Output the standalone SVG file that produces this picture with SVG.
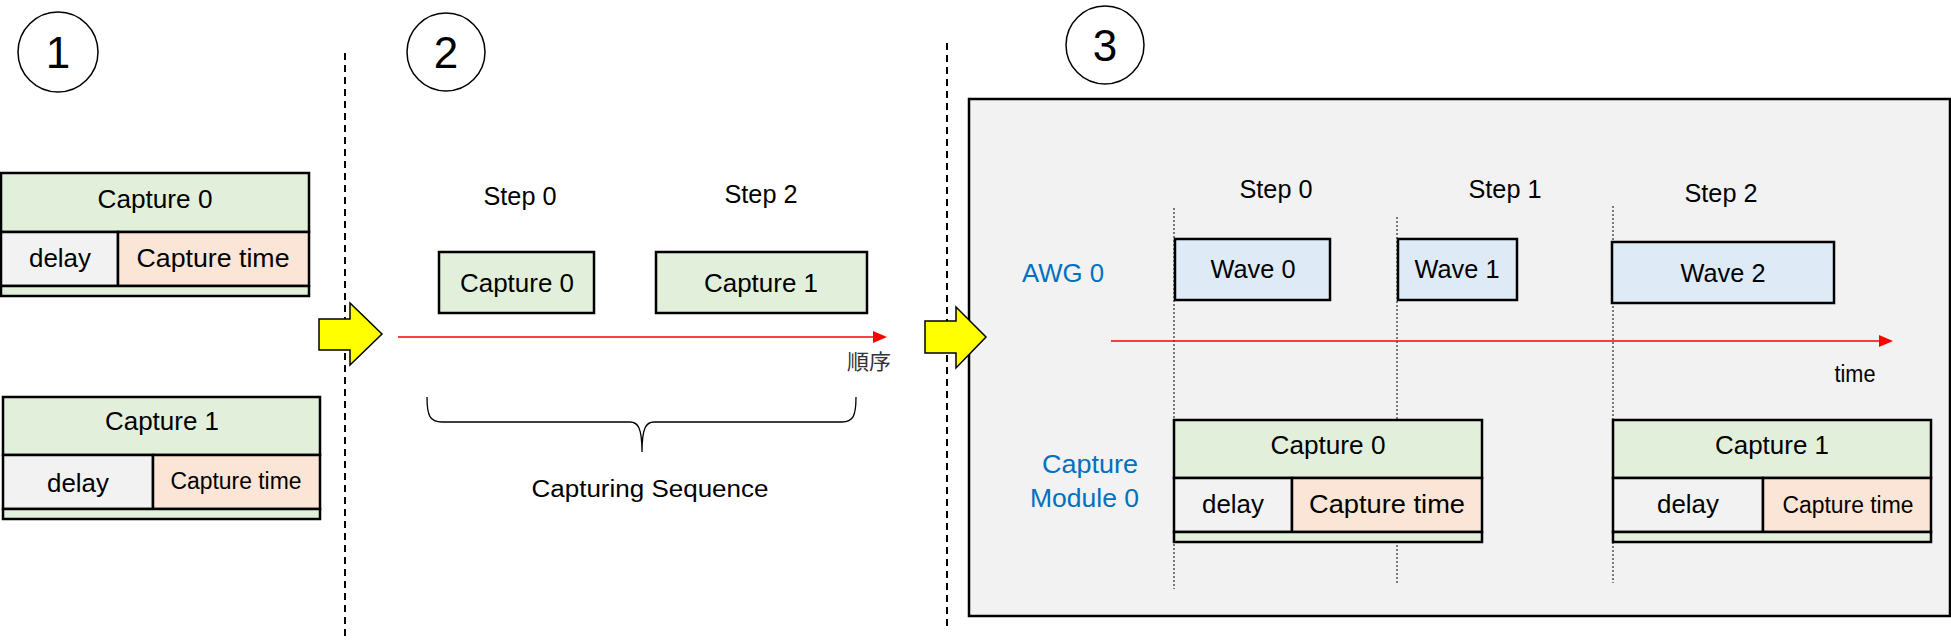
<svg xmlns="http://www.w3.org/2000/svg" width="1951" height="641" viewBox="0 0 1951 641">
<style>
text{font-family:"Liberation Sans",Arial,sans-serif;fill:#000;text-anchor:middle}
.t26{font-size:26px}
.t25{font-size:25px}
.t23{font-size:23px}
.blue{fill:#0070C0;font-size:26px}
.num{font-size:44px}
.box{stroke:#000;stroke-width:2.5}
.g{fill:#E2EFDA}
.d{fill:#F2F2F2}
.o{fill:#FBE5D6}
.w{fill:#DEEBF7}
.sep{stroke:#000;stroke-width:2;stroke-dasharray:7 5;fill:none}
.dot{stroke:#000;stroke-width:1;stroke-dasharray:2 2;fill:none}
.circ{fill:#fff;stroke:#000;stroke-width:1.5}
.yel{fill:#FFFF00;stroke:#000;stroke-width:1.5;stroke-linejoin:miter}
.red{stroke:#FF0000;stroke-width:1.5;fill:none}
</style>
<defs>
<marker id="ah" viewBox="0 0 14 12" refX="0" refY="6" markerWidth="14" markerHeight="12" markerUnits="userSpaceOnUse" orient="auto">
<path d="M0,0 L14,6 L0,12 Z" fill="#FF0000"/>
</marker>
</defs>

<!-- background panel section 3 -->
<rect id="panel3" x="969" y="99" width="981" height="517" fill="#F2F2F2" stroke="#000" stroke-width="2.5"/>

<!-- separators -->
<line class="sep" x1="345" y1="53" x2="345" y2="638"/>
<line class="sep" x1="947" y1="43" x2="947" y2="628"/>

<!-- step markers section 3 -->
<line class="dot" x1="1174" y1="208" x2="1174" y2="589"/>
<line class="dot" x1="1397" y1="217" x2="1397" y2="583"/>
<line class="dot" x1="1613" y1="206" x2="1613" y2="583"/>

<!-- circles -->
<g id="n-circle1"><circle class="circ" cx="58" cy="52" r="40"/><text class="num" x="58" y="68">1</text></g>
<g id="n-circle2"><circle class="circ" cx="446" cy="52" r="39"/><text class="num" x="446" y="68">2</text></g>
<g id="n-circle3"><circle class="circ" cx="1105" cy="45" r="39"/><text class="num" x="1105" y="61">3</text></g>

<!-- section 1 -->
<g id="n-s1-capture0">
<rect class="box g" x="1" y="173" width="308" height="59"/>
<rect class="box d" x="1" y="232" width="117" height="54"/>
<rect class="box o" x="118" y="232" width="191" height="54"/>
<rect class="box g" x="1" y="286" width="308" height="10"/>
<text class="t26" x="155" y="208" textLength="115" lengthAdjust="spacingAndGlyphs">Capture 0</text>
<text class="t26" x="60" y="267" textLength="62" lengthAdjust="spacingAndGlyphs">delay</text>
<text class="t26" x="213" y="267" textLength="153" lengthAdjust="spacingAndGlyphs">Capture time</text>
</g>
<g id="n-s1-capture1">
<rect class="box g" x="3" y="397" width="317" height="58"/>
<rect class="box d" x="3" y="455" width="150" height="54"/>
<rect class="box o" x="153" y="455" width="167" height="54"/>
<rect class="box g" x="3" y="509" width="317" height="10"/>
<text class="t26" x="162" y="430" textLength="114" lengthAdjust="spacingAndGlyphs">Capture 1</text>
<text class="t26" x="78" y="492" textLength="62" lengthAdjust="spacingAndGlyphs">delay</text>
<text class="t23" x="236" y="489" textLength="131" lengthAdjust="spacingAndGlyphs">Capture time</text>
</g>

<!-- section 2 -->
<g id="n-s2-step0"><text class="t25" x="520" y="205" textLength="73" lengthAdjust="spacingAndGlyphs">Step 0</text></g>
<g id="n-s2-step2"><text class="t25" x="761" y="203" textLength="73" lengthAdjust="spacingAndGlyphs">Step 2</text></g>
<g id="n-s2-capture0">
<rect class="box g" x="439" y="252" width="155" height="61"/>
<text class="t26" x="517" y="292" textLength="114" lengthAdjust="spacingAndGlyphs">Capture 0</text>
</g>
<g id="n-s2-capture1">
<rect class="box g" x="656" y="252" width="211" height="61"/>
<text class="t26" x="761" y="292" textLength="114" lengthAdjust="spacingAndGlyphs">Capture 1</text>
</g>
<g id="n-s2-order"><text x="869" y="369" style="font-family:'Noto Sans CJK JP',sans-serif;font-size:21px;fill:#333" textLength="44" lengthAdjust="spacingAndGlyphs">順序</text></g>
<g id="n-s2-brace">
<path d="M427,397 C427,416 430,422 442,422 L630,422 C638,422 642,428 642,452 C642,428 646,422 654,422 L842,422 C853,422 856,416 856,397" fill="none" stroke="#000" stroke-width="1.3"/>
<text class="t23" x="650" y="497" textLength="237" lengthAdjust="spacingAndGlyphs">Capturing Sequence</text>
</g>

<!-- section 3 -->
<g id="n-s3-labels">
<text class="t25" x="1276" y="198" textLength="73" lengthAdjust="spacingAndGlyphs">Step 0</text>
<text class="t25" x="1505" y="198" textLength="73" lengthAdjust="spacingAndGlyphs">Step 1</text>
<text class="t25" x="1721" y="202" textLength="73" lengthAdjust="spacingAndGlyphs">Step 2</text>
<text class="t23" x="1855" y="382" textLength="41" lengthAdjust="spacingAndGlyphs">time</text>
</g>
<g id="n-awg0"><text class="blue" x="1063" y="282" textLength="82" lengthAdjust="spacingAndGlyphs">AWG 0</text></g>
<g id="n-capmod0">
<text class="blue" x="1138" y="473" style="text-anchor:end" textLength="96" lengthAdjust="spacingAndGlyphs">Capture</text>
<text class="blue" x="1139" y="507" style="text-anchor:end" textLength="109" lengthAdjust="spacingAndGlyphs">Module 0</text>
</g>
<g id="n-wave0">
<rect class="box w" x="1175" y="239" width="155" height="61"/>
<text class="t25" x="1253" y="278" textLength="85" lengthAdjust="spacingAndGlyphs">Wave 0</text>
</g>
<g id="n-wave1">
<rect class="box w" x="1398" y="239" width="119" height="61"/>
<text class="t25" x="1457" y="278" textLength="85" lengthAdjust="spacingAndGlyphs">Wave 1</text>
</g>
<g id="n-wave2">
<rect class="box w" x="1612" y="242" width="222" height="61"/>
<text class="t25" x="1723" y="282" textLength="85" lengthAdjust="spacingAndGlyphs">Wave 2</text>
</g>
<g id="n-s3-capture0">
<rect class="box g" x="1174" y="420" width="308" height="58"/>
<rect class="box d" x="1174" y="478" width="118" height="54"/>
<rect class="box o" x="1292" y="478" width="190" height="54"/>
<rect class="box g" x="1174" y="532" width="308" height="10"/>
<text class="t26" x="1328" y="454" textLength="115" lengthAdjust="spacingAndGlyphs">Capture 0</text>
<text class="t26" x="1233" y="513" textLength="62" lengthAdjust="spacingAndGlyphs">delay</text>
<text class="t26" x="1387" y="513" textLength="156" lengthAdjust="spacingAndGlyphs">Capture time</text>
</g>
<g id="n-s3-capture1">
<rect class="box g" x="1613" y="420" width="318" height="58"/>
<rect class="box d" x="1613" y="478" width="150" height="54"/>
<rect class="box o" x="1763" y="478" width="168" height="54"/>
<rect class="box g" x="1613" y="532" width="318" height="10"/>
<text class="t26" x="1772" y="454" textLength="114" lengthAdjust="spacingAndGlyphs">Capture 1</text>
<text class="t26" x="1688" y="513" textLength="62" lengthAdjust="spacingAndGlyphs">delay</text>
<text class="t23" x="1848" y="513" textLength="131" lengthAdjust="spacingAndGlyphs">Capture time</text>
</g>

<!-- connectors -->
<g id="connectors">
<polygon class="yel" points="319,319 350,319 350,303 382,334 350,365 350,350 319,350"/>
<polygon class="yel" points="925,321 956,321 956,307 986,337 956,368 956,353 925,353"/>
<line class="red" x1="398" y1="337" x2="873" y2="337" marker-end="url(#ah)"/>
<line class="red" x1="1111" y1="341" x2="1879" y2="341" marker-end="url(#ah)"/>
</g>
</svg>
